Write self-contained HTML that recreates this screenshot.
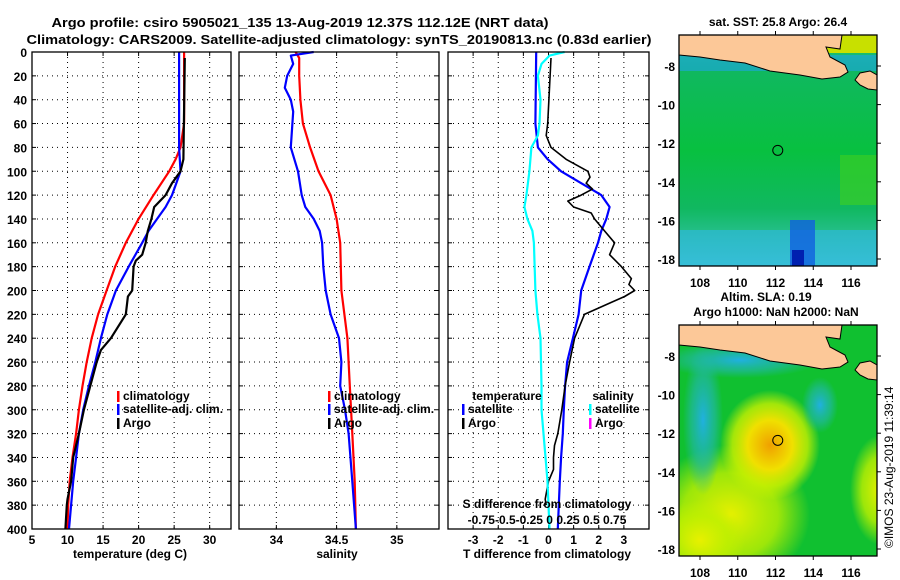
<!DOCTYPE html>
<html><head><meta charset="utf-8"><style>
html,body{margin:0;padding:0;background:#fff;}
svg{display:block;font-family:"Liberation Sans",sans-serif;font-weight:bold;}
</style></head><body>
<svg id="fig" width="900" height="580" viewBox="0 0 900 580" xmlns="http://www.w3.org/2000/svg">
<text x="300" y="27" font-size="13" text-anchor="middle" textLength="497" lengthAdjust="spacingAndGlyphs">Argo profile: csiro 5905021_135 13-Aug-2019 12.37S 112.12E (NRT data)</text>
<text x="339" y="44" font-size="13" text-anchor="middle" textLength="625" lengthAdjust="spacingAndGlyphs">Climatology: CARS2009. Satellite-adjusted climatology: synTS_20190813.nc (0.83d earlier)</text>
<g id="plots"></g>
<g id="maps"></g>
<text x="0" y="0" font-size="12" font-weight="normal" transform="translate(893,548) rotate(-90)">©IMOS 23-Aug-2019 11:39:14</text>
</svg>
<script>
// ---- data ----
const climDepth = [0,60,80,90,100,120,140,160,180,200,220,240,260,280,300,320,340,360,380,400];
const climTemp  = [26.4,26.4,25.9,25.2,24.3,22.1,20.0,18.2,16.7,15.5,14.3,13.4,12.7,12.1,11.6,11.2,10.7,10.3,10.1,10.0];
const satDepth  = [0,80,100,110,120,130,140,150,160,180,200,220,240,260,280,300,320,340,360,380,400];
const satTemp   = [25.7,25.7,25.9,25.3,24.7,23.8,22.6,21.4,20.5,18.6,16.8,15.6,14.7,13.9,13.0,12.2,11.6,11.2,10.8,10.5,10.2];
const argoDepth = [5,90,100,110,120,130,140,150,160,170,175,180,200,205,220,240,250,260,280,300,320,340,360,375,380,400];
const argoTemp  = [26.5,26.3,25.9,24.7,23.8,22.2,21.8,21.3,21.0,20.5,19.6,19.3,19.1,18.5,18.2,16.1,14.7,14.1,13.2,12.3,11.6,10.8,10.5,10.0,9.9,9.7];
const climSalDepth = [0,5,20,40,60,80,100,120,140,160,200,240,280,320,360,400];
const climSal      = [34.16,34.19,34.19,34.20,34.22,34.28,34.35,34.45,34.50,34.53,34.54,34.59,34.61,34.63,34.65,34.66];
const satSalDepth  = [0,3,10,20,30,40,50,80,100,120,130,140,150,160,180,200,220,240,260,280,300,320,360,400];
const satSal       = [34.31,34.12,34.14,34.09,34.07,34.12,34.14,34.12,34.18,34.21,34.24,34.31,34.36,34.38,34.39,34.41,34.45,34.52,34.54,34.53,34.57,34.60,34.63,34.66];
const dSatDepth = [0,60,80,90,100,110,120,130,140,150,160,180,200,220,240,260,280,300,320,340,360,380,400];
const dSatT     = [-0.49,-0.52,-0.42,-0.03,0.5,1.3,2.1,2.43,2.3,2.1,1.97,1.63,1.3,1.2,0.97,0.74,0.66,0.61,0.57,0.5,0.45,0.41,0.37];
const dArgoDepth = [5,60,70,80,90,100,105,110,115,120,125,130,135,140,150,160,170,180,190,195,200,205,210,220,240,260,280,300,320,330,340,350,360,375,380];
const dArgoT     = [0.1,-0.03,-0.09,0.1,0.7,1.57,1.65,1.5,1.75,1.3,0.77,1.0,1.7,1.83,2.23,2.63,2.43,2.9,3.3,3.2,3.43,3.03,2.5,1.43,1.04,0.84,0.66,0.53,0.37,0.24,0.2,0.2,0.0,-0.13,-0.09];
const dSalDepth = [0,3,10,20,40,60,70,80,100,120,130,140,150,160,200,220,240,280,300,320,340,360,380,400];
const dSal      = [0.16,0.01,-0.07,-0.105,-0.08,-0.09,-0.105,-0.17,-0.19,-0.22,-0.24,-0.21,-0.16,-0.145,-0.13,-0.11,-0.08,-0.07,-0.07,-0.05,-0.03,-0.01,0,0.01];
const depthTicks = [0,20,40,60,80,100,120,140,160,180,200,220,240,260,280,300,320,340,360,380,400];
const tTicks = [5,10,15,20,25,30];
const sTicks = [34,34.5,35];
const dTTicks = [-3,-2,-1,0,1,2,3];
const dSTickLabels = ["-0.75","-0.5","-0.25","0","0.25","0.5","0.75"];
const mapLonTicks = [108,110,112,114,116];
const mapLatTicks = [-8,-10,-12,-14,-16,-18];
const argoLon = 112.12, argoLat = -12.37;

const NS="http://www.w3.org/2000/svg";
function mk(tag, attrs, parent){const e=document.createElementNS(NS,tag);for(const k in attrs)e.setAttribute(k,attrs[k]);parent.appendChild(e);return e;}
const plots=document.getElementById('plots');
const Y0=52, Y1=529;
const yD = d => Y0 + d*(Y1-Y0)/400;
function panel(x0,x1,vmin,vmax,name){
  const sx = v => x0 + (v-vmin)*(x1-x0)/(vmax-vmin);
  const g=mk('g',{},plots);
  
  
  depthTicks.forEach(d=>{ if(d>0&&d<400){ const l=mk('line',{x1:x0,x2:x1,y1:yD(d),y2:yD(d),stroke:'#000','stroke-width':1,'stroke-dasharray':'1,4'},g);  }
    mk('line',{x1:x0,x2:x0+4,y1:yD(d),y2:yD(d),stroke:'#000'},g); mk('line',{x1:x1-4,x2:x1,y1:yD(d),y2:yD(d),stroke:'#000'},g);});
  return {g,sx};
}
function vgrid(p,vals,x0,x1){vals.forEach(v=>{const x=p.sx(v); if(x>x0+1&&x<x1-1){const l=mk('line',{x1:x,x2:x,y1:Y0,y2:Y1,stroke:'#000','stroke-dasharray':'1,4'},p.g);}
  mk('line',{x1:x,x2:x,y1:Y0,y2:Y0+4,stroke:'#000'},p.g);mk('line',{x1:x,x2:x,y1:Y1-4,y2:Y1,stroke:'#000'},p.g);});}
function series(p,vals,depths,color,name,w){
  const pts=vals.map((v,i)=>p.sx(v).toFixed(1)+','+yD(depths[i]).toFixed(1)).join(' ');
  const l=mk('polyline',{points:pts,fill:'none',stroke:color,'stroke-width':w||2.2,'stroke-linejoin':'round'},p.g);
  
  
}
function frame(p,x0,x1){const r=mk('rect',{x:x0,y:Y0,width:x1-x0,height:Y1-Y0,fill:'none',stroke:'#000','stroke-width':1.3},p.g);}
function txt(g,x,y,s,anchor,size,name){const t=mk('text',{x:x,y:y,'font-size':size||12,'text-anchor':anchor||'start'},g);t.textContent=s;return t;}
function legend(g,x,y,color,label,name){const r=mk('rect',{x:x,y:y-9,width:2.5,height:11,fill:color},g);txt(g,x+6,y,label,'start',12,name);}

// panel 1 temperature
const p1=panel(32,231,5,33,'temperature-panel');
vgrid(p1,tTicks,32,231);
depthTicks.forEach(d=>txt(p1.g,27,yD(d)+5,String(d),'end',12,'depth-tick-label'));
tTicks.forEach(v=>txt(p1.g,p1.sx(v),544,String(v),'middle',12,'temp-tick-label'));
txt(p1.g,130,558,'temperature (deg C)','middle',12,'x-axis-title-temperature');
series(p1,climTemp,climDepth,'#ff0000','climatology-temp-line');
series(p1,satTemp,satDepth,'#0000ff','satellite-temp-line');
series(p1,argoTemp,argoDepth,'#000000','argo-temp-line');
frame(p1,32,231);
legend(p1.g,117,400,'#ff0000','climatology','legend-climatology');
legend(p1.g,117,413,'#0000ff','satellite-adj. clim.','legend-satellite');
legend(p1.g,117,427,'#000000','Argo','legend-argo');

// panel 2 salinity
const p2=panel(239,439,33.69,35.35,'salinity-panel');
vgrid(p2,sTicks,239,439);
sTicks.forEach(v=>txt(p2.g,p2.sx(v),544,String(v),'middle',12,'salinity-tick-label'));
txt(p2.g,337,558,'salinity','middle',12,'x-axis-title-salinity');
series(p2,climSal,climSalDepth,'#ff0000','climatology-salinity-line');
series(p2,satSal,satSalDepth,'#0000ff','satellite-salinity-line');
frame(p2,239,439);
legend(p2.g,328,400,'#ff0000','climatology','legend-climatology-2');
legend(p2.g,328,413,'#0000ff','satellite-adj. clim.','legend-satellite-2');
legend(p2.g,328,427,'#000000','Argo','legend-argo-2');

// panel 3 differences
const p3=panel(448,649,-4,4,'difference-panel');
vgrid(p3,dTTicks,448,649);
dTTicks.forEach(v=>txt(p3.g,p3.sx(v),544,String(v),'middle',12,'tdiff-tick-label'));
txt(p3.g,547,558,'T difference from climatology','middle',12,'x-axis-title-tdiff');
const p3s={g:p3.g,sx:v=>p3.sx(v*4)};
series(p3,dSatT,dSatDepth,'#0000ff','satellite-tdiff-line');
series(p3,dArgoT,dArgoDepth,'#000000','argo-tdiff-line',1.6);
series(p3s,dSal,dSalDepth,'#00ffff','satellite-sdiff-line');
frame(p3,448,649);
txt(p3.g,507,400,'temperature','middle',12,'legend-title-temperature');
legend(p3.g,462,413,'#0000ff','satellite','legend-tdiff-satellite');
legend(p3.g,462,427,'#000000','Argo','legend-tdiff-argo');
txt(p3.g,613,400,'salinity','middle',12,'legend-title-salinity');
legend(p3.g,589,413,'#00ffff','satellite','legend-sdiff-satellite');
legend(p3.g,589,427,'#ff00ff','Argo','legend-sdiff-argo');
txt(p3.g,547,508,'S difference from climatology','middle',12,'sdiff-axis-title');
txt(p3.g,547,524,'-0.75-0.5-0.25  0    0.25 0.5 0.75','middle',12,'sdiff-tick-labels');

// maps
const maps=document.getElementById('maps');
function grad(defs,id,stops){const rg=mk('radialGradient',{id:id},defs);stops.forEach(s=>mk('stop',{offset:s[0],'stop-color':s[1],'stop-opacity':s[2]},rg));}
function map(top,kind,name){
  const x0=679,x1=877,y0=top,y1=top+231;
  const sx=lon=>700+(lon-108)*(151/8);
  const sy=lat=>top+31+(-8-lat)*19.3;
  const g=mk('g',{},maps);
  
  
  const id='clip'+top;
  const cp=mk('clipPath',{id:id},g);mk('rect',{x:x0,y:y0,width:x1-x0,height:y1-y0},cp);
  const inner=mk('g',{'clip-path':'url(#'+id+')'},g);
  if(kind==='sst'){
    const defs=mk('defs',{},g);
    const lg=mk('linearGradient',{id:'sstg',x1:0,y1:0,x2:0,y2:1},defs);
    [[0,'#20c080'],[0.15,'#10b860'],[0.5,'#08c040'],[0.75,'#10b860'],[1,'#40c8c0']].forEach(s=>mk('stop',{offset:s[0],'stop-color':s[1]},lg));
    mk('rect',{x:x0,y:y0,width:198,height:231,fill:'url(#sstg)'},inner);
    mk('rect',{x:x0,y:y0+20,width:198,height:16,fill:'#20a0ff',opacity:0.5},inner);
    mk('rect',{x:x0,y:y0+195,width:198,height:36,fill:'#30b8e8',opacity:0.6},inner);
    mk('rect',{x:790,y:y0+185,width:25,height:46,fill:'#1060e0',opacity:0.8},inner);
    mk('rect',{x:792,y:y0+215,width:12,height:16,fill:'#0020b0'},inner);
    mk('rect',{x:840,y:y0+120,width:37,height:50,fill:'#40d020',opacity:0.6},inner);
    mk('rect',{x:x0,y:y0,width:198,height:18,fill:'#c8e000'},inner);
  } else {
    mk('rect',{x:x0,y:y0,width:198,height:231,fill:'#10c030'},inner);
    const defs=mk('defs',{},g);
    grad(defs,'slag',[[0,'#f0a000',1],[0.45,'#f0e000',1],[0.75,'#c8f000',0.8],[1,'#c8f000',0]]);
    grad(defs,'slag2',[[0,'#e8f000',1],[0.6,'#c0f000',0.8],[1,'#c0f000',0]]);
    grad(defs,'slag3',[[0,'#20b0e0',1],[0.6,'#20b8a0',0.7],[1,'#20b8a0',0]]);
    mk('ellipse',{cx:730,cy:top+190,rx:80,ry:70,fill:'url(#slag2)'},inner);
    mk('ellipse',{cx:700,cy:top+215,rx:45,ry:40,fill:'url(#slag2)'},inner);
    mk('ellipse',{cx:770,cy:top+120,rx:50,ry:55,fill:'url(#slag)'},inner);
    mk('ellipse',{cx:880,cy:top+165,rx:30,ry:55,fill:'url(#slag2)'},inner);
    mk('ellipse',{cx:703,cy:top+95,rx:20,ry:75,fill:'url(#slag3)'},inner);
    mk('ellipse',{cx:820,cy:top+80,rx:18,ry:28,fill:'url(#slag3)'},inner);
    mk('ellipse',{cx:740,cy:top+35,rx:80,ry:18,fill:'url(#slag3)'},inner);
  }
  const land=mk('path',{d:`M${x0},${y0} L${x0},${y0+20} L700,${y0+22} L720,${y0+25} L745,${y0+28} L770,${y0+36} L800,${y0+40} L822,${y0+44} L840,${y0+42} L848,${y0+37} L845,${y0+30} L830,${y0+22} L826,${y0+12} L840,${y0+14} L842,${y0} Z M855,${y0+45} L860,${y0+38} L870,${y0+36} L877,${y0+40} L877,${y0+55} L868,${y0+54} L860,${y0+50} Z`,fill:'#fcc898',stroke:'#000','stroke-width':1},inner);
  
  
  mk('rect',{x:x0,y:y0,width:198,height:231,fill:'none',stroke:'#000','stroke-width':1.3},g);
  mapLonTicks.forEach(l=>{mk('line',{x1:sx(l),x2:sx(l),y1:y1,y2:y1+4,stroke:'#000'},g);mk('line',{x1:sx(l),x2:sx(l),y1:y0-4,y2:y0,stroke:'#000'},g);txt(g,sx(l),y1+21,String(l),'middle',12,'lon-tick-label');});
  mapLatTicks.forEach(l=>{mk('line',{x1:x1,x2:x1+4,y1:sy(l),y2:sy(l),stroke:'#000'},g);txt(g,x0-4,sy(l)+5,String(l),'end',12,'lat-tick-label');});
  const c=mk('circle',{cx:sx(argoLon),cy:sy(argoLat),r:5,fill:'none',stroke:'#000','stroke-width':1},g);
  
  
}
map(35,'sst','sst-map');
map(325,'sla','sla-map');
txt(maps,778,26,'sat. SST: 25.8 Argo: 26.4','middle',12,'sst-map-title');
txt(maps,766,301,'Altim. SLA: 0.19','middle',12,'sla-map-title');
txt(maps,776,316,'Argo h1000: NaN h2000: NaN','middle',12,'sla-map-subtitle');
</script>
</body></html>
